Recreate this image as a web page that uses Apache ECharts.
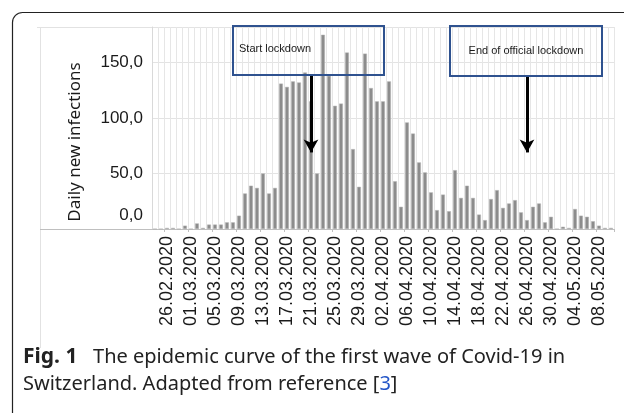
<!DOCTYPE html>
<html><head><meta charset="utf-8">
<script src="https://cdn.jsdelivr.net/npm/echarts@6/dist/echarts.min.js"></script>
<style>html,body{margin:0;padding:0;background:#fff}#c{width:624px;height:413px}</style>
</head><body><div id="c"></div>
<script>
const categories = [
'24.02.2020','25.02.2020','26.02.2020','27.02.2020','28.02.2020','29.02.2020',
'01.03.2020','02.03.2020','03.03.2020','04.03.2020','05.03.2020','06.03.2020','07.03.2020','08.03.2020','09.03.2020','10.03.2020',
'11.03.2020','12.03.2020','13.03.2020','14.03.2020','15.03.2020','16.03.2020','17.03.2020','18.03.2020','19.03.2020','20.03.2020',
'21.03.2020','22.03.2020','23.03.2020','24.03.2020','25.03.2020','26.03.2020','27.03.2020','28.03.2020','29.03.2020','30.03.2020','31.03.2020',
'01.04.2020','02.04.2020','03.04.2020','04.04.2020','05.04.2020','06.04.2020','07.04.2020','08.04.2020','09.04.2020','10.04.2020',
'11.04.2020','12.04.2020','13.04.2020','14.04.2020','15.04.2020','16.04.2020','17.04.2020','18.04.2020','19.04.2020','20.04.2020',
'21.04.2020','22.04.2020','23.04.2020','24.04.2020','25.04.2020','26.04.2020','27.04.2020','28.04.2020','29.04.2020','30.04.2020',
'01.05.2020','02.05.2020','03.05.2020','04.05.2020','05.05.2020','06.05.2020','07.05.2020','08.05.2020','09.05.2020','10.05.2020'];
const dailyNewInfections = [
0,0,1,1,0,3,
0,5,1,4,4,4,6,6,12,32,
39,37,50,32,37,131,128,133,132,141,
115,50,175,138,111,113,159,72,38,158,127,
115,115,133,43,20,96,86,60,51,33,
17,31,16,53,28,39,28,13,8,27,
35,19,23,26,15,8,20,23,6,11,
0,2,1,18,12,11,7,3,1,1];
const yTickLabels = {0:'0,0',50:'50,0',100:'100,0',150:'150,0'};
const yAxisTitle = 'Daily new infections';
const annotations = [
  {date:'21.03.2020', text:'Start lockdown', from:139, to:69},
  {date:'26.04.2020', text:'End of official lockdown', from:138, to:69}
];
const captionLabel = 'Fig. 1';
const captionLine1 = 'The epidemic curve of the first wave of Covid-19 in';
const captionLine2a = 'Switzerland. Adapted from reference [';
const captionRef = '3';
const captionLine2b = ']';

const chart = echarts.init(document.getElementById('c'), null, {renderer:'canvas'});
const firstLabelIdx = 2;
const showLbl = (i)=> i>=firstLabelIdx && (i-firstLabelIdx)%4===0;
chart.setOption({
  animation:false,
  backgroundColor:'#fff',
  grid:{left:152, top:27, right:10, height:202, containLabel:false},
  xAxis:{
    type:'category', data:categories, boundaryGap:true,
    axisLine:{show:true, lineStyle:{color:'#bfbfbf', width:1}},
    axisTick:{show:true, interval:showLbl, length:3, lineStyle:{color:'#bfbfbf'}},
    axisLabel:{interval:showLbl, rotate:90, margin:7,
      fontFamily:'Liberation Sans, Arial, sans-serif', fontSize:18, color:'#1a1a1a'},
    splitLine:{show:true, interval:0, lineStyle:{color:'#e6e6e6', width:1}}
  },
  yAxis:{
    type:'value', min:0, max:182, interval:50,
    axisLine:{show:true, lineStyle:{color:'#d9d9d9'}},
    axisTick:{show:false},
    axisLabel:{margin:9, fontFamily:'Liberation Sans, Arial, sans-serif', fontSize:17, color:'#1a1a1a',
      formatter:(v)=> v===0 ? '{z|0,0}' : (yTickLabels[v] !== undefined ? yTickLabels[v] : ''),
      rich:{z:{fontFamily:'Liberation Sans, Arial, sans-serif', fontSize:17, color:'#1a1a1a', padding:[0,0,28,0]}}},
    splitLine:{show:true, lineStyle:{color:'#e3e3e3'}}
  },
  series:[{
    type:'bar', data:dailyNewInfections, barWidth:'62%',
    itemStyle:{color:'#8c8c8c', borderColor:'#b0b0b0', borderWidth:0.5},
    markLine:{
      silent:true, symbol:['none','arrow'], symbolSize:[11,13],
      label:{show:false},
      lineStyle:{color:'#000', width:3, type:'solid'},
      data: annotations.map(a=>[{coord:[a.date, a.from]},{coord:[a.date, a.to]}])
    }
  }],
  graphic:[
    {type:'rect', shape:{x:12.5, y:12.5, width:700, height:500, r:10}, style:{fill:'none', stroke:'#222', lineWidth:1.2}},
    {type:'line', shape:{x1:40.5, y1:27, x2:40.5, y2:348}, style:{stroke:'#e2e2e2', lineWidth:1}},
    {type:'line', shape:{x1:37, y1:27.5, x2:152, y2:27.5}, style:{stroke:'#e2e2e2', lineWidth:1}},
    {type:'line', shape:{x1:40, y1:229.5, x2:152, y2:229.5}, style:{stroke:'#bfbfbf', lineWidth:1}},
    {type:'text', x:75, y:142, rotation:Math.PI/2, style:{text:yAxisTitle, fontFamily:'Noto Sans, Open Sans, sans-serif', fontSize:17, fill:'#1a1a1a', textAlign:'center', textVerticalAlign:'middle'}},
    {type:'rect', z:100, shape:{x:233, y:26, width:151, height:49}, style:{fill:'none', stroke:'#2f528f', lineWidth:2}},
    {type:'rect', z:100, shape:{x:450, y:26, width:152, height:50}, style:{fill:'none', stroke:'#2f528f', lineWidth:2}},
    {type:'text', z:100, x:239, y:49, style:{text:annotations[0].text, fontFamily:'Liberation Sans, Arial, sans-serif', fontSize:11, fill:'#1a1a1a', textAlign:'left', textVerticalAlign:'middle'}},
    {type:'text', z:100, x:526, y:51, style:{text:annotations[1].text, fontFamily:'Liberation Sans, Arial, sans-serif', fontSize:11, fill:'#1a1a1a', textAlign:'center', textVerticalAlign:'middle'}},
    {type:'text', x:23, y:357, style:{text:'{b|'+captionLabel+'}   '+captionLine1, fontFamily:'Noto Sans, sans-serif', fontSize:20, fill:'#222', textVerticalAlign:'middle',
      rich:{b:{fontWeight:'bold', fontFamily:'Noto Sans, sans-serif', fontSize:21, fill:'#222'}}}},
    {type:'text', x:23, y:384, style:{text:captionLine2a+'{l|'+captionRef+'}'+captionLine2b, fontFamily:'Noto Sans, sans-serif', fontSize:20, fill:'#222', textVerticalAlign:'middle',
      rich:{l:{fontFamily:'Noto Sans, sans-serif', fontSize:20, fill:'#2456c8'}}}}
  ]
});
</script></body></html>
